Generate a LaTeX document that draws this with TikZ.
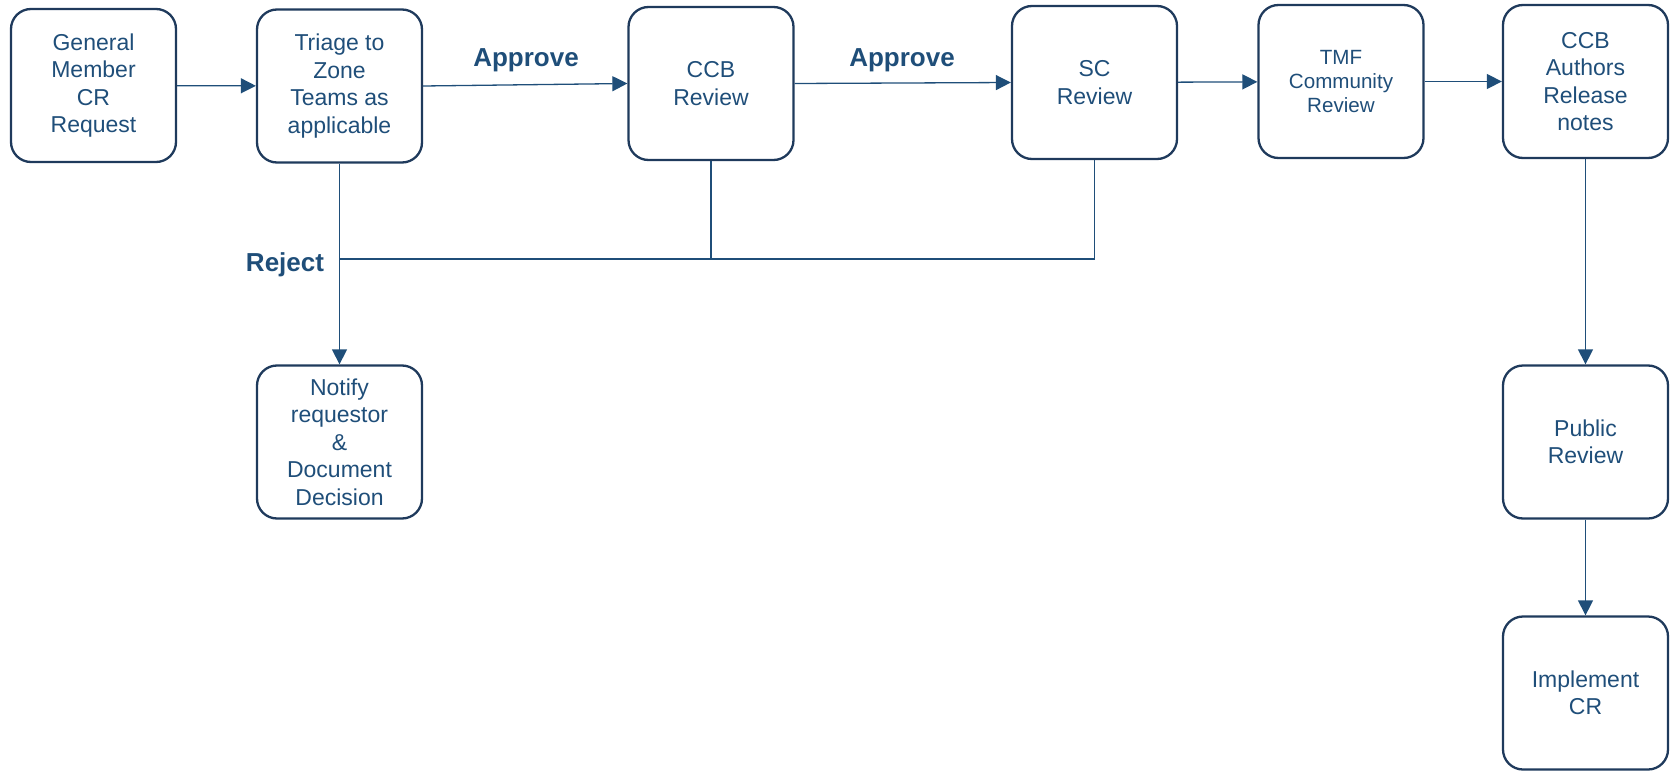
\documentclass[tikz,border=0pt]{standalone}
\usepackage{fontspec}
\setmainfont{Liberation Sans}
\usetikzlibrary{arrows.meta}
\definecolor{boxborder}{HTML}{1F3A5C}
\definecolor{txt}{HTML}{1F4E79}
\definecolor{lineclr}{HTML}{1F4E79}
\tikzset{
  procbox/.style={draw=boxborder, line width=1.15pt, rounded corners=10pt, rectangle,
    minimum width=82.5pt, minimum height=76.5pt, align=center, text=txt, inner sep=2pt,
    font=\fontsize{11.5}{13.7}\selectfont},
  smalltext/.style={font=\fontsize{10.3}{12.2}\selectfont},
  conn/.style={draw=lineclr, line width=0.65pt},
  arr/.style={conn, -{Triangle[length=7.5pt,width=7.5pt]}},
  lbl/.style={text=txt, font=\fontsize{13}{15}\selectfont\bfseries, inner sep=0pt}
}
\begin{document}
\begin{tikzpicture}[x=0.5pt,y=-0.5pt]
\useasboundingbox (0,0) rectangle (1671,771);
\node[procbox] (gm) at (93.5,85.5) {General\\Member\\CR\\Request};
\node[procbox] (tri) at (339.5,86) {Triage to\\Zone\\Teams as\\applicable};
\node[procbox] (ccb) at (711,83.5) {CCB\\Review};
\node[procbox] (sc) at (1094.5,82.5) {SC\\Review};
\node[procbox, smalltext] (tmf) at (1341,81.5) {TMF\\Community\\Review};
\node[procbox] (auth) at (1585.5,81.5) {CCB\\Authors\\Release\\notes};
\node[procbox] (notify) at (339.5,442) {Notify\\requestor\\\&\\Document\\Decision};
\node[procbox] (pub) at (1585.5,442) {Public\\Review};
\node[procbox] (impl) at (1585.5,693) {Implement\\CR};

\coordinate (rj) at (339.5,259);

\draw[arr] (gm) -- (tri);
\draw[arr] (tri.east) -- (ccb.west);
\draw[arr] (ccb.east) -- (sc.west);
\draw[arr] (sc) -- (tmf);
\draw[arr] (tmf) -- (auth);
\draw[arr] (tri.south) -- (notify.north);
\draw[conn] (ccb.south) |- (rj);
\draw[conn] (sc.south) |- (rj);
\draw[arr] (auth) -- (pub);
\draw[arr] (pub) -- (impl);

\node[lbl] (ap1) at (526,60) {Approve};
\node[lbl] (ap2) at (902,60) {Approve};
\node[lbl] (rej) at (285,265) {Reject};
\end{tikzpicture}
\end{document}
